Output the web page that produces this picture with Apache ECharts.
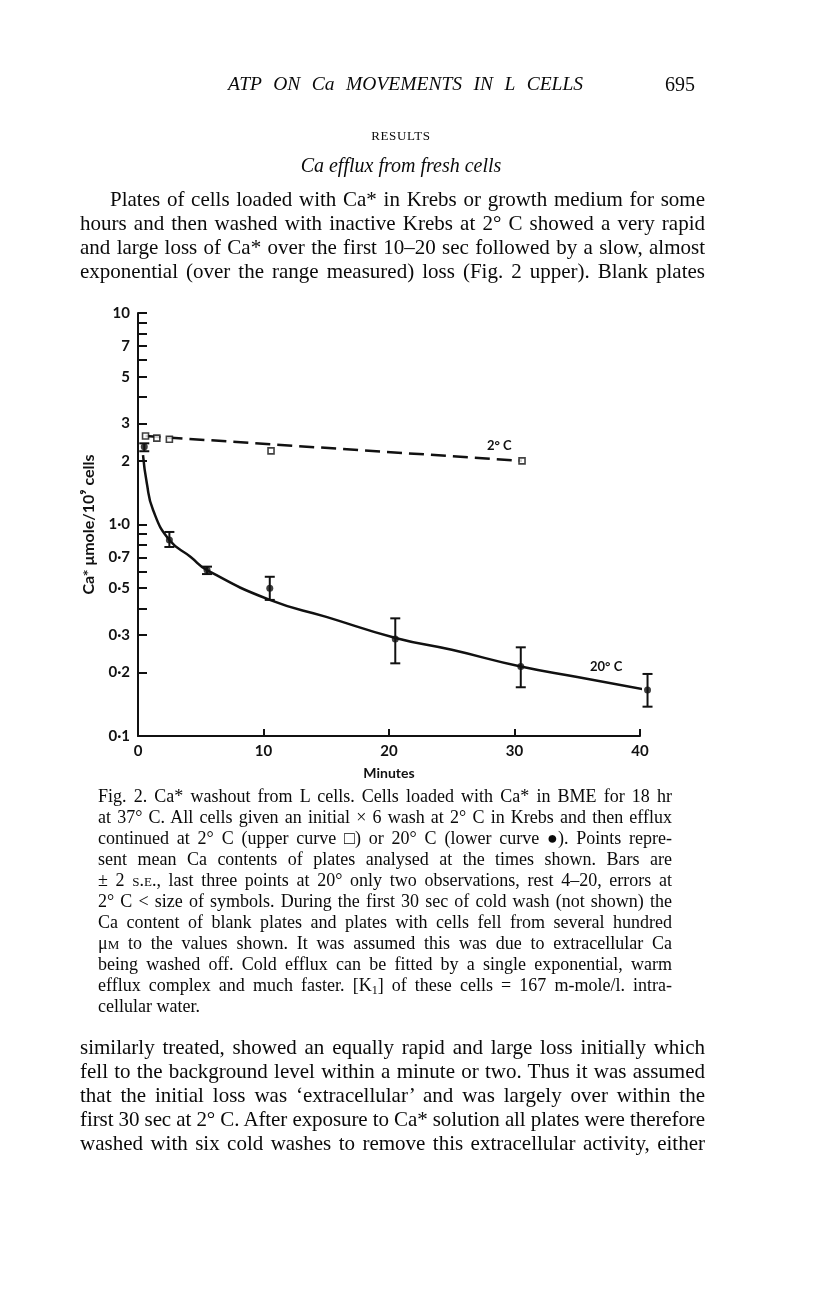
<!DOCTYPE html>
<html>
<head>
<meta charset="utf-8">
<script src="https://cdn.jsdelivr.net/npm/echarts@6/dist/echarts.min.js"></script>
<style>
  html, body { margin:0; padding:0; background:#fff; }
  #page { position:relative; width:816px; height:1296px; overflow:hidden; background:#fff; }
  #chart { position:absolute; left:0; top:0; width:816px; height:1296px; }
  .ln { position:absolute; white-space:nowrap; height:24px; line-height:24px; color:#0a0a0a;
        font-family:"Liberation Serif","DejaVu Serif",serif; z-index:2; }
  .ln span.t { display:inline-block; }
  .body { font-size:21px; }
  .cap { font-size:18px; }
  .sc { font-variant:small-caps; }
  .sub { font-size:12px; position:relative; top:3px; }
  .ctr { text-align:center; }
</style>
</head>
<body>
<div id="page">
  <div id="chart"></div>

  <div class="ln j" style="left:228px;top:72px;font-size:19.5px;font-style:italic;" data-w="355"><span class="t">ATP ON Ca MOVEMENTS IN L CELLS</span></div>
  <div class="ln" style="left:665px;top:72px;font-size:20px;"><span class="t">695</span></div>

  <div class="ln ctr" style="left:301px;width:200px;top:124px;font-size:13px;letter-spacing:0.6px;"><span class="t">RESULTS</span></div>
  <div class="ln ctr" style="left:251px;width:300px;top:153px;font-size:20px;font-style:italic;"><span class="t">Ca efflux from fresh cells</span></div>

  <div class="ln body j" style="left:110px;top:187px;" data-w="595"><span class="t">Plates of cells loaded with Ca* in Krebs or growth medium for some</span></div>
  <div class="ln body j" style="left:80px;top:211px;" data-w="625"><span class="t">hours and then washed with inactive Krebs at 2° C showed a very rapid</span></div>
  <div class="ln body j" style="left:80px;top:235px;" data-w="625"><span class="t">and large loss of Ca* over the first 10–20 sec followed by a slow, almost</span></div>
  <div class="ln body j" style="left:80px;top:259px;" data-w="625"><span class="t">exponential (over the range measured) loss (Fig. 2 upper). Blank plates</span></div>

  <div class="ln cap j" style="left:98px;top:784px;" data-w="574"><span class="t">Fig. 2. Ca* washout from L cells. Cells loaded with Ca* in BME for 18 hr</span></div>
  <div class="ln cap j" style="left:98px;top:805px;" data-w="574"><span class="t">at 37° C. All cells given an initial × 6 wash at 2° C in Krebs and then efflux</span></div>
  <div class="ln cap j" style="left:98px;top:826px;" data-w="574"><span class="t">continued at 2° C (upper curve □) or 20° C (lower curve ●). Points repre-</span></div>
  <div class="ln cap j" style="left:98px;top:847px;" data-w="574"><span class="t">sent mean Ca contents of plates analysed at the times shown. Bars are</span></div>
  <div class="ln cap j" style="left:98px;top:868px;" data-w="574"><span class="t">± 2 <span class="sc">s.e.</span>, last three points at 20° only two observations, rest 4–20, errors at</span></div>
  <div class="ln cap j" style="left:98px;top:889px;" data-w="574"><span class="t">2° C &lt; size of symbols. During the first 30 sec of cold wash (not shown) the</span></div>
  <div class="ln cap j" style="left:98px;top:910px;" data-w="574"><span class="t">Ca content of blank plates and plates with cells fell from several hundred</span></div>
  <div class="ln cap j" style="left:98px;top:931px;" data-w="574"><span class="t">μ<span class="sc">m</span> to the values shown. It was assumed this was due to extracellular Ca</span></div>
  <div class="ln cap j" style="left:98px;top:952px;" data-w="574"><span class="t">being washed off. Cold efflux can be fitted by a single exponential, warm</span></div>
  <div class="ln cap j" style="left:98px;top:973px;" data-w="574"><span class="t">efflux complex and much faster. [K<span class="sub">1</span>] of these cells = 167 m-mole/l. intra-</span></div>
  <div class="ln cap" style="left:98px;top:994px;"><span class="t">cellular water.</span></div>

  <div class="ln body j" style="left:80px;top:1035px;" data-w="625"><span class="t">similarly treated, showed an equally rapid and large loss initially which</span></div>
  <div class="ln body j" style="left:80px;top:1059px;" data-w="625"><span class="t">fell to the background level within a minute or two. Thus it was assumed</span></div>
  <div class="ln body j" style="left:80px;top:1083px;" data-w="625"><span class="t">that the initial loss was ‘extracellular’ and was largely over within the</span></div>
  <div class="ln body j" style="left:80px;top:1107px;" data-w="625"><span class="t">first 30 sec at 2° C. After exposure to Ca* solution all plates were therefore</span></div>
  <div class="ln body j" style="left:80px;top:1131px;" data-w="625"><span class="t">washed with six cold washes to remove this extracellular activity, either</span></div>
</div>

<script>
// ---- data ----
const coldX = [0.6, 1.5, 2.5, 10.6, 30.6];          // minutes, 2° C (open squares)
const coldY = [2.62, 2.56, 2.53, 2.23, 2.0];        // Ca* µmole/10^9 cells
const coldFitX = [0.6, 30.6];                       // single-exponential fit (dashed)
const coldFitY = [2.62, 2.0];

const warmX  = [0.5, 2.5, 5.5, 10.5, 20.5, 30.5, 40.6];   // minutes, 20° C (filled circles)
const warmY  = [2.33, 0.845, 0.61, 0.50, 0.2875, 0.213, 0.165];
const warmLo = [2.22, 0.783, 0.583, 0.44, 0.2206, 0.170, 0.1376];
const warmHi = [2.42, 0.922, 0.632, 0.566, 0.36, 0.2626, 0.1965];

const warmFitX = [0.4, 0.7, 1.2, 2.5, 4.2, 5.5, 10.5, 15, 20.6, 25, 30.5, 35, 40.6];
const warmFitY = [2.13, 1.57, 1.17, 0.845, 0.702, 0.609, 0.44, 0.366, 0.29, 0.2555, 0.213, 0.19, 0.165];

const yTickValues  = [0.1,0.2,0.3,0.4,0.5,0.6,0.7,0.8,0.9,1,2,3,4,5,6,7,8,9,10];
const yLabelValues = [0.1,0.2,0.3,0.5,0.7,1,2,3,5,7,10];

// ---- fit justified text lines ----
document.querySelectorAll('.j').forEach(el => {
  const W = parseFloat(el.dataset.w);
  const span = el.querySelector('span.t');
  const natural = span.getBoundingClientRect().width;
  const txt = span.textContent;
  const spaces = (txt.match(/ /g) || []).length;
  const extra = W - natural;
  if (extra < 0) {
    span.style.letterSpacing = (extra / txt.length) + 'px';
  } else if (spaces > 0) {
    span.style.wordSpacing = (extra / spaces) + 'px';
  }
});

const AX_FONT = 'Lato, "Open Sans", "DejaVu Sans", sans-serif';
const chart = echarts.init(document.getElementById('chart'), null, {renderer:'canvas'});

function yFmt(v) {
  if (Math.abs(v - 1) < 1e-9) return '1·0';
  if (v < 1) return '0·' + Math.round(v * 10);
  return String(Math.round(v));
}

chart.setOption({
  backgroundColor: 'transparent',
  animation: false,
  grid: { left: 138, top: 313, width: 502, height: 423, containLabel: false, outerBoundsMode: 'none' },
  xAxis: {
    type: 'value', min: 0, max: 40, interval: 10,
    name: 'Minutes', nameLocation: 'middle', nameGap: 30,
    nameTextStyle: { fontFamily: AX_FONT, fontWeight: 'bold', fontSize: 14, color: '#111' },
    axisLine: { lineStyle: { color: '#111', width: 2 } },
    axisTick: { inside: true, length: 7, lineStyle: { color: '#111', width: 2 } },
    axisLabel: { margin: 8, fontFamily: AX_FONT, fontWeight: 'bold', fontSize: 15, color: '#111' },
    splitLine: { show: false }
  },
  yAxis: {
    type: 'log', logBase: 10, min: 0.1, max: 10,
    name: 'Ca* μmole/10⁹ cells', nameLocation: 'middle', nameGap: 41, nameRotate: 90,
    nameTextStyle: { fontFamily: AX_FONT, fontWeight: 'bold', fontSize: 16, color: '#111' },
    axisLine: { show: true, lineStyle: { color: '#111', width: 2 } },
    axisTick: { show: true, inside: true, length: 9, customValues: yTickValues, lineStyle: { color: '#111', width: 2 } },
    axisLabel: { margin: 8, customValues: yLabelValues, formatter: yFmt, fontFamily: AX_FONT, fontWeight: 'bold', fontSize: 15, color: '#111' },
    splitLine: { show: false }, minorTick: { show: false }
  },
  graphic: [
    { type: 'text', left: 487, top: 439, style: { text: '2° C', font: 'bold 13px ' + AX_FONT, fill: '#111' } },
    { type: 'text', left: 590, top: 660, style: { text: '20° C', font: 'bold 13px ' + AX_FONT, fill: '#111' } }
  ],
  series: [
    { type: 'line', name: '2° C fit', data: coldFitX.map((x, i) => [x, coldFitY[i]]),
      showSymbol: false, clip: false, lineStyle: { color: '#111', width: 2.5, type: [15, 7] }, z: 2 },
    { type: 'scatter', name: '2° C', data: coldX.map((x, i) => [x, coldY[i]]), clip: false,
      symbol: 'rect', symbolSize: 6, itemStyle: { color: '#fff', borderColor: '#111', borderWidth: 1.6 }, z: 5 },
    { type: 'line', name: '20° C fit', data: warmFitX.map((x, i) => [x, warmFitY[i]]),
      smooth: 0.5, showSymbol: false, clip: false, lineStyle: { color: '#111', width: 2.5 }, z: 3 },
    { type: 'custom', name: 'bars', clip: false, z: 4,
      data: warmX.map((x, i) => [x, warmLo[i], warmHi[i]]),
      renderItem: function (params, api) {
        const x = api.value(0), lo = api.value(1), hi = api.value(2);
        const a = api.coord([x, lo]), b = api.coord([x, hi]);
        const w = 5, st = { stroke: '#111', lineWidth: 2 };
        return { type: 'group', children: [
          { type: 'line', shape: { x1: a[0], y1: a[1], x2: b[0], y2: b[1] }, style: st },
          { type: 'line', shape: { x1: a[0] - w, y1: a[1], x2: a[0] + w, y2: a[1] }, style: st },
          { type: 'line', shape: { x1: b[0] - w, y1: b[1], x2: b[0] + w, y2: b[1] }, style: st }
        ]};
      }
    },
    { type: 'scatter', name: '20° C', data: warmX.map((x, i) => [x, warmY[i]]), clip: false,
      symbol: 'circle', symbolSize: 7, itemStyle: { color: '#111' }, z: 6 }
  ]
});
</script>
</body>
</html>
